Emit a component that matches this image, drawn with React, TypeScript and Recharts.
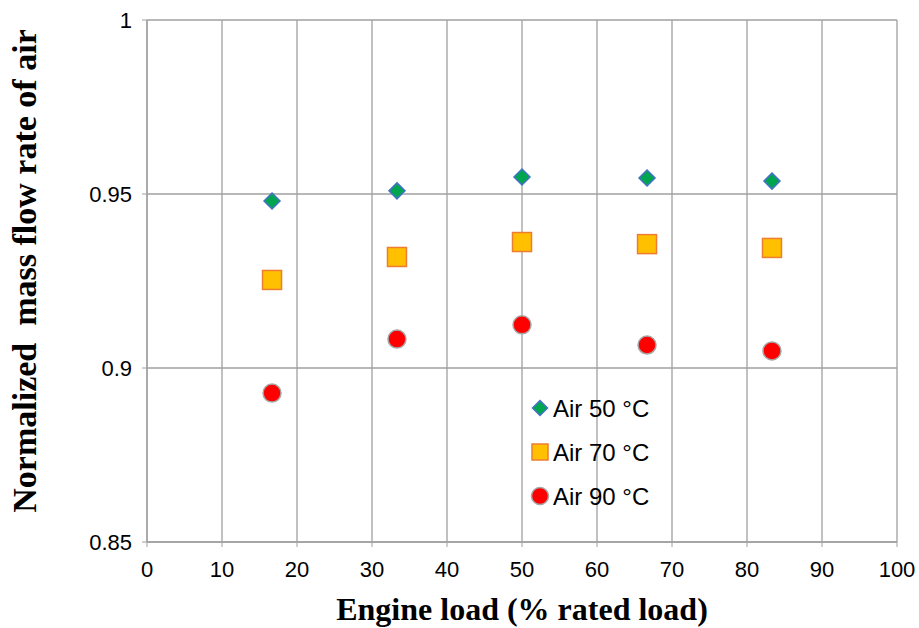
import React from "react";
import {
  ScatterChart,
  Scatter,
  XAxis,
  YAxis,
  CartesianGrid,
  Label,
} from "recharts";

const loads = [16.67, 33.33, 50, 66.67, 83.33];
const air50 = [0.948, 0.9509, 0.9549, 0.9546, 0.9537];
const air70 = [0.9253, 0.9319, 0.9362, 0.9356, 0.9345];
const air90 = [0.8928, 0.9083, 0.9124, 0.9066, 0.9049];
const seriesNames = ["Air 50 °C", "Air 70 °C", "Air 90 °C"];
const xTicks = [0, 10, 20, 30, 40, 50, 60, 70, 80, 90, 100];
const yTicks = [0.85, 0.9, 0.95, 1];

const toPoints = (ys: number[]) => loads.map((x, i) => ({ x, y: ys[i] }));

const Diamond = (props: any) => {
  const { cx, cy } = props;
  const r = props.r ?? 8;
  return (
    <path
      d={`M${cx},${cy - r} L${cx + r},${cy} L${cx},${cy + r} L${cx - r},${cy} Z`}
      fill="#00a64f"
      stroke="#4472c4"
      strokeWidth={1.5}
    />
  );
};

const Square = (props: any) => {
  const { cx, cy } = props;
  const s = props.r ?? 9.5;
  return (
    <rect
      x={cx - s}
      y={cy - s}
      width={s * 2}
      height={s * 2}
      fill="#ffc000"
      stroke="#ed7d31"
      strokeWidth={1.5}
    />
  );
};

const Circle = (props: any) => {
  const { cx, cy } = props;
  return (
    <circle cx={cx} cy={cy} r={props.r ?? 9} fill="#ff0000" stroke="#a6a6a6" strokeWidth={1.5} />
  );
};

// legend drawn as an overlay so it doesn't take space from the plot
const LegendBox = () => {
  const markers = [
    <Diamond cx={14} cy={0} r={7.5} />,
    <Square cx={14} cy={0} r={8} />,
    <Circle cx={14} cy={0} r={8.5} />,
  ];
  return (
    <svg
      width={160}
      height={130}
      style={{ position: "absolute", left: 526, top: 386 }}
    >
      {seriesNames.map((name, i) => (
        <g key={name} transform={`translate(0, ${22 + i * 44})`}>
          {markers[i]}
          <text
            x={27}
            y={8.5}
            fontFamily="'Liberation Sans', Arial, sans-serif"
            fontSize={24}
            fill="#000"
          >
            {name}
          </text>
        </g>
      ))}
    </svg>
  );
};

const tickStyle = {
  fontFamily: "'Liberation Sans', Arial, sans-serif",
  fontSize: 22,
  fill: "#000",
};

const titleStyle = {
  fontFamily: "'Liberation Serif', 'Times New Roman', serif",
  fontWeight: "bold",
  fill: "#000",
};

const App = () => {
  return (
    <div style={{ position: "absolute", left: 0, top: 0, width: 919, height: 628, background: "#fff" }}>
      <ScatterChart
        width={919}
        height={628}
        margin={{ top: 20, right: 22, left: 0, bottom: 0 }}
      >
        <CartesianGrid stroke="#a0a0a0" strokeWidth={1.3} />
        <XAxis
          type="number"
          dataKey="x"
          domain={[0, 100]}
          ticks={xTicks}
          height={86}
          tick={tickStyle}
          tickLine={{ stroke: "#a0a0a0" }}
          axisLine={{ stroke: "#a0a0a0", strokeWidth: 1.3 }}
          tickSize={5}
          tickMargin={14}
          interval={0}
        >
          <Label
            value="Engine load (% rated load)"
            position="insideBottom"
            offset={8}
            style={{ ...titleStyle, fontSize: 32 }}
          />
        </XAxis>
        <YAxis
          type="number"
          dataKey="y"
          domain={[0.85, 1]}
          ticks={yTicks}
          width={147}
          tick={tickStyle}
          tickLine={{ stroke: "#a0a0a0" }}
          axisLine={{ stroke: "#a0a0a0", strokeWidth: 1.3 }}
          tickSize={5}
          tickMargin={10}
          interval={0}
        >
          <Label
            value={"Normalized \u00a0mass flow rate of air"}
            angle={-90}
            position="insideLeft"
            offset={24}
            dy={-10}
            style={{ ...titleStyle, fontSize: 34, textAnchor: "middle" }}
          />
        </YAxis>
        <Scatter name={seriesNames[0]} data={toPoints(air50)} shape={<Diamond />} isAnimationActive={false} />
        <Scatter name={seriesNames[1]} data={toPoints(air70)} shape={<Square />} isAnimationActive={false} />
        <Scatter name={seriesNames[2]} data={toPoints(air90)} shape={<Circle />} isAnimationActive={false} />
      </ScatterChart>
      <LegendBox />
    </div>
  );
};

export default App;
